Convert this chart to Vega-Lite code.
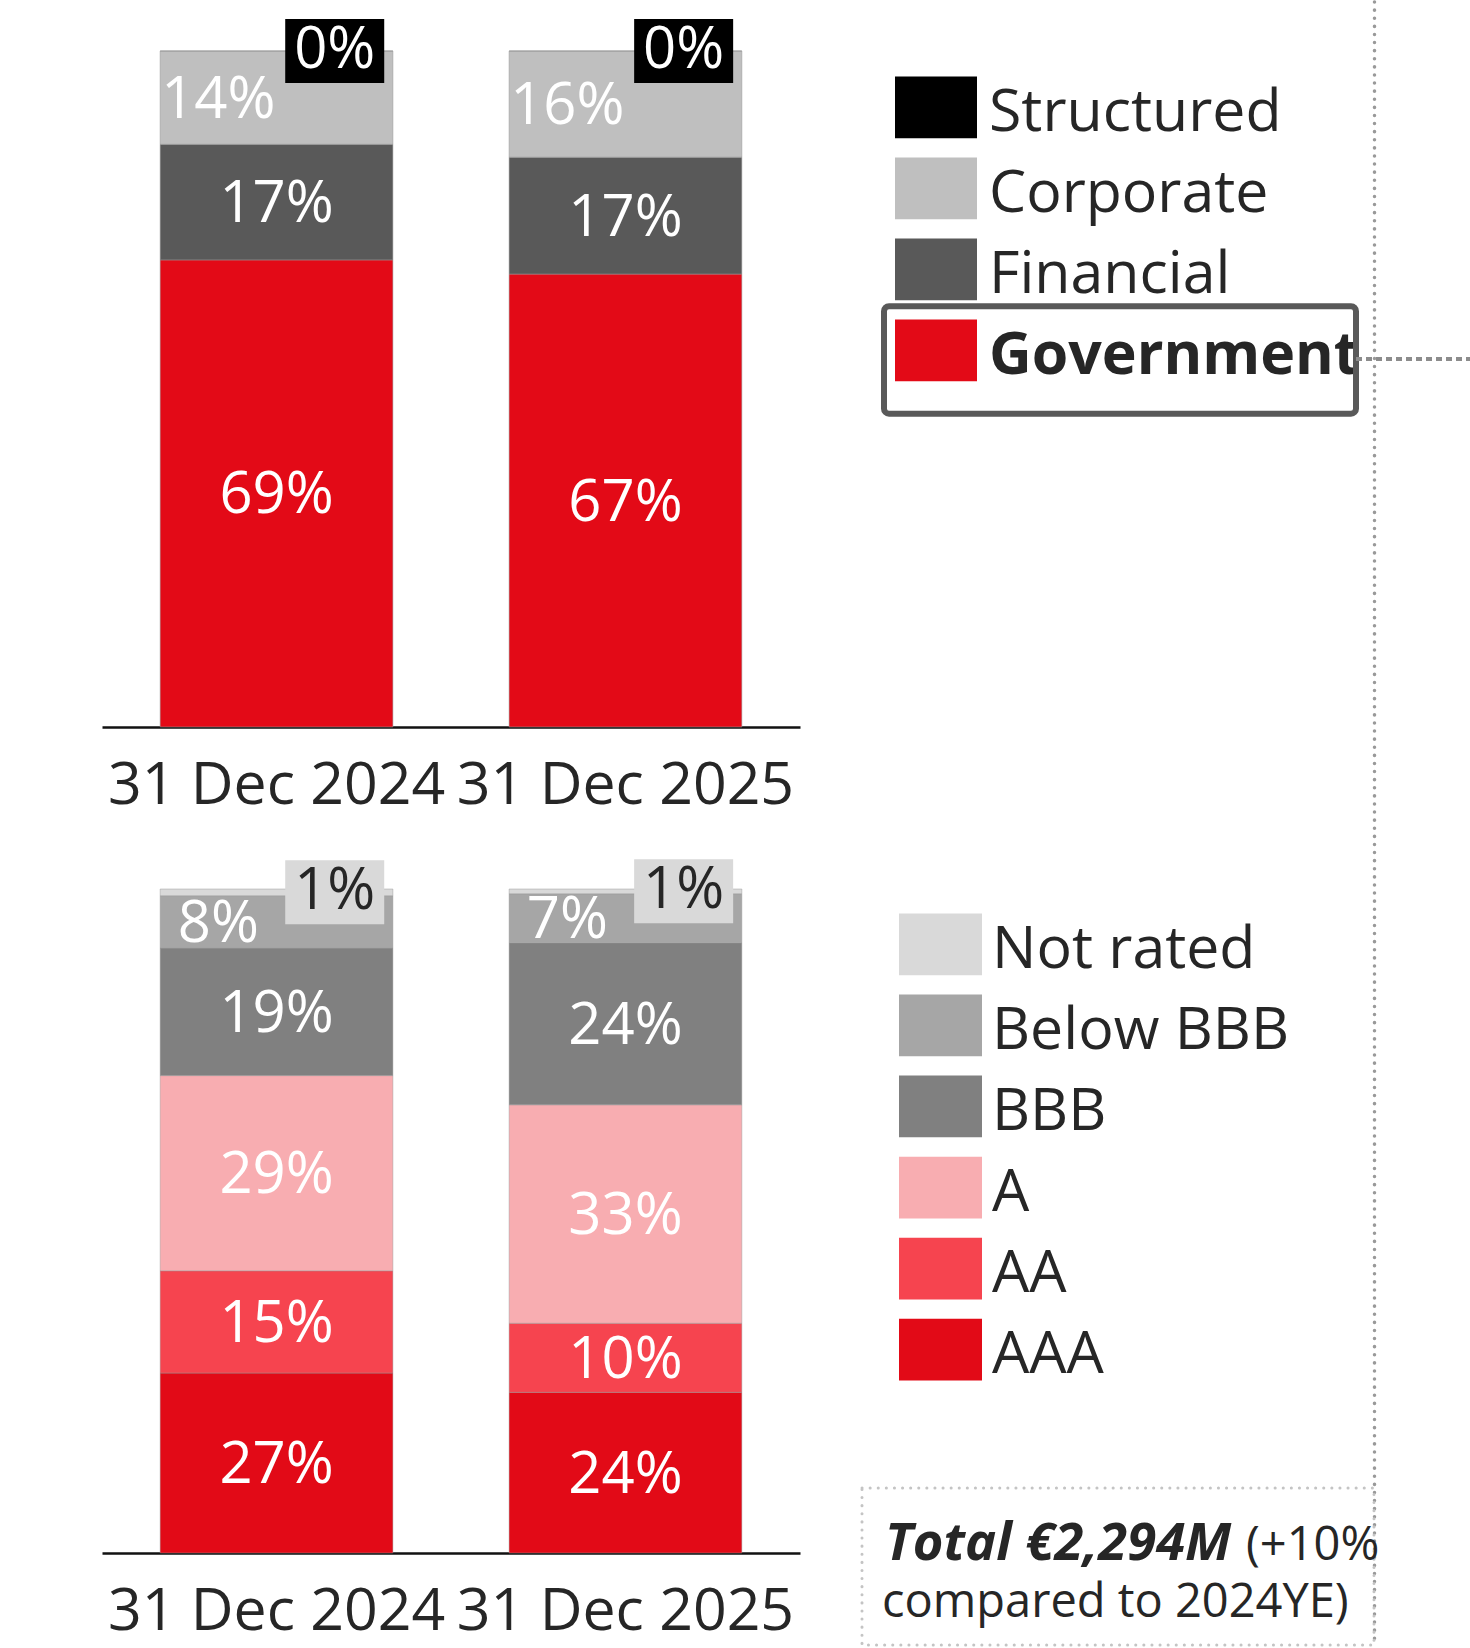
{
  "$schema": "https://vega.github.io/schema/vega-lite/v6.json",
  "padding": {"left": 102, "top": 0, "right": 0, "bottom": 2},
  "background": "white",
  "config": {"view": {"stroke": null}, "font": "Open Sans", "text": {"font": "Open Sans"}},
  "datasets": {
    "sector": [
      {"date": "31 Dec 2024", "cat": "Government", "value": 0.691},
      {"date": "31 Dec 2024", "cat": "Financial", "value": 0.171},
      {"date": "31 Dec 2024", "cat": "Corporate", "value": 0.138},
      {"date": "31 Dec 2024", "cat": "Structured", "value": 0.0},
      {"date": "31 Dec 2025", "cat": "Government", "value": 0.670},
      {"date": "31 Dec 2025", "cat": "Financial", "value": 0.173},
      {"date": "31 Dec 2025", "cat": "Corporate", "value": 0.157},
      {"date": "31 Dec 2025", "cat": "Structured", "value": 0.0}
    ],
    "rating": [
      {"date": "31 Dec 2024", "cat": "AAA", "value": 0.271},
      {"date": "31 Dec 2024", "cat": "AA", "value": 0.154},
      {"date": "31 Dec 2024", "cat": "A", "value": 0.294},
      {"date": "31 Dec 2024", "cat": "BBB", "value": 0.192},
      {"date": "31 Dec 2024", "cat": "Below BBB", "value": 0.079},
      {"date": "31 Dec 2024", "cat": "Not rated", "value": 0.010},
      {"date": "31 Dec 2025", "cat": "AAA", "value": 0.242},
      {"date": "31 Dec 2025", "cat": "AA", "value": 0.104},
      {"date": "31 Dec 2025", "cat": "A", "value": 0.329},
      {"date": "31 Dec 2025", "cat": "BBB", "value": 0.244},
      {"date": "31 Dec 2025", "cat": "Below BBB", "value": 0.074},
      {"date": "31 Dec 2025", "cat": "Not rated", "value": 0.007}
    ],
    "sectorLegend": [
      {"cat": "Structured"}, {"cat": "Corporate"}, {"cat": "Financial"}, {"cat": "Government"}
    ],
    "ratingLegend": [
      {"cat": "Not rated"}, {"cat": "Below BBB"}, {"cat": "BBB"}, {"cat": "A"}, {"cat": "AA"}, {"cat": "AAA"}
    ],
    "note": [{"k": 1}]
  },
  "resolve": {"scale": {"x": "independent", "y": "independent", "color": "independent"}},
  "bounds": "full",
  "spacing": 60,
  "hconcat": [
    {
      "vconcat": [
        {
          "width": 698,
          "height": 676,
          "data": {"name": "sector"},
          "transform": [{"calculate": "indexof(['Government','Financial','Corporate','Structured'], datum.cat)", "as": "rank"}],
          "encoding": {
            "x": {"field": "date", "type": "nominal", "sort": null, "title": null,
              "scale": {"paddingInner": 0.333, "paddingOuter": 0.1667},
              "axis": {"labelAngle": 0, "labelFontSize": 59, "labelColor": "#262626", "labelFont": "Open Sans", "labelPadding": 29, "labelLimit": 600, "ticks": false, "tickSize": 0, "domainColor": "#111111", "domainWidth": 2.5, "grid": false, "labelOverlap": false}},
            "y": {"field": "value", "type": "quantitative", "stack": "zero", "axis": null, "scale": {"domain": [0, 1], "nice": false}},
            "order": {"field": "rank", "type": "quantitative"},
            "detail": {"field": "cat", "type": "nominal"}
          },
          "layer": [
            {
              "mark": {"type": "bar", "stroke": "#999999", "strokeWidth": 1, "strokeOpacity": 0.55},
              "encoding": {
                "color": {"field": "cat", "type": "nominal", "legend": null,
                  "scale": {"domain": ["Structured", "Corporate", "Financial", "Government"], "range": ["#000000", "#bfbfbf", "#595959", "#e30a17"]}}
              }
            },
            {
              "mark": {"type": "text", "fontSize": 58, "fill": "#ffffff", "baseline": "middle", "dy": 3},
              "encoding": {
                "y": {"field": "value", "type": "quantitative", "stack": "zero", "bandPosition": 0.5, "axis": null, "scale": {"domain": [0, 1], "nice": false}},
                "text": {"condition": {"test": "datum.cat === 'Financial' || datum.cat === 'Government'", "field": "value", "type": "quantitative", "format": ".0%"}, "value": ""}
              }
            },
            {
              "mark": {"type": "text", "fontSize": 58, "fill": "#ffffff", "baseline": "middle", "dy": 3},
              "encoding": {
                "x": {"field": "date", "type": "nominal", "sort": null, "bandPosition": 0.25},
                "y": {"field": "value", "type": "quantitative", "stack": "zero", "bandPosition": 0.5, "axis": null, "scale": {"domain": [0, 1], "nice": false}},
                "text": {"condition": {"test": "datum.cat === 'Corporate'", "field": "value", "type": "quantitative", "format": ".0%"}, "value": ""}
              }
            },
            {
              "mark": {"type": "point", "shape": "M-1,-0.6465H1V0.6465H-1Z", "size": 9801, "filled": true, "strokeWidth": 0},
              "encoding": {
                "x": {"field": "date", "type": "nominal", "sort": null, "bandPosition": 0.75},
                "y": {"field": "value", "type": "quantitative", "stack": "zero", "bandPosition": 0.5, "axis": null, "scale": {"domain": [0, 1], "nice": false}},
                "color": {"field": "cat", "type": "nominal", "legend": null,
                  "scale": {"domain": ["Structured", "Corporate", "Financial", "Government"], "range": ["#000000", "#bfbfbf", "#595959", "#e30a17"]}},
                "opacity": {"condition": {"test": "datum.cat === 'Structured'", "value": 1}, "value": 0}
              }
            },
            {
              "mark": {"type": "text", "fontSize": 58, "fill": "#ffffff", "baseline": "middle", "dy": 0},
              "encoding": {
                "x": {"field": "date", "type": "nominal", "sort": null, "bandPosition": 0.75},
                "y": {"field": "value", "type": "quantitative", "stack": "zero", "bandPosition": 0.5, "axis": null, "scale": {"domain": [0, 1], "nice": false}},
                "text": {"condition": {"test": "datum.cat === 'Structured'", "field": "value", "type": "quantitative", "format": ".0%"}, "value": ""}
              }
            }
          ]
        },
        {
          "width": 698,
          "height": 664,
          "data": {"name": "rating"},
          "transform": [{"calculate": "indexof(['AAA','AA','A','BBB','Below BBB','Not rated'], datum.cat)", "as": "rank"}],
          "encoding": {
            "x": {"field": "date", "type": "nominal", "sort": null, "title": null,
              "scale": {"paddingInner": 0.333, "paddingOuter": 0.1667},
              "axis": {"labelAngle": 0, "labelFontSize": 59, "labelColor": "#262626", "labelFont": "Open Sans", "labelPadding": 29, "labelLimit": 600, "ticks": false, "tickSize": 0, "domainColor": "#111111", "domainWidth": 2.5, "grid": false, "labelOverlap": false}},
            "y": {"field": "value", "type": "quantitative", "stack": "zero", "axis": null, "scale": {"domain": [0, 1], "nice": false}},
            "order": {"field": "rank", "type": "quantitative"},
            "detail": {"field": "cat", "type": "nominal"}
          },
          "layer": [
            {
              "mark": {"type": "bar", "stroke": "#999999", "strokeWidth": 1, "strokeOpacity": 0.45},
              "encoding": {
                "color": {"field": "cat", "type": "nominal", "legend": null,
                  "scale": {"domain": ["Not rated", "Below BBB", "BBB", "A", "AA", "AAA"], "range": ["#d9d9d9", "#a6a6a6", "#808080", "#f8adb1", "#f6444f", "#e20a17"]}}
              }
            },
            {
              "mark": {"type": "text", "fontSize": 58, "fill": "#ffffff", "baseline": "middle", "dy": 3},
              "encoding": {
                "y": {"field": "value", "type": "quantitative", "stack": "zero", "bandPosition": 0.5, "axis": null, "scale": {"domain": [0, 1], "nice": false}},
                "text": {"condition": {"test": "datum.cat === 'BBB' || datum.cat === 'A' || datum.cat === 'AA' || datum.cat === 'AAA'", "field": "value", "type": "quantitative", "format": ".0%"}, "value": ""}
              }
            },
            {
              "mark": {"type": "text", "fontSize": 58, "fill": "#ffffff", "baseline": "middle", "dy": 3},
              "encoding": {
                "x": {"field": "date", "type": "nominal", "sort": null, "bandPosition": 0.25},
                "y": {"field": "value", "type": "quantitative", "stack": "zero", "bandPosition": 0.5, "axis": null, "scale": {"domain": [0, 1], "nice": false}},
                "text": {"condition": {"test": "datum.cat === 'Below BBB'", "field": "value", "type": "quantitative", "format": ".0%"}, "value": ""}
              }
            },
            {
              "mark": {"type": "point", "shape": "M-1,-0.6465H1V0.6465H-1Z", "size": 9801, "filled": true, "strokeWidth": 0},
              "encoding": {
                "x": {"field": "date", "type": "nominal", "sort": null, "bandPosition": 0.75},
                "y": {"field": "value", "type": "quantitative", "stack": "zero", "bandPosition": 0.5, "axis": null, "scale": {"domain": [0, 1], "nice": false}},
                "color": {"field": "cat", "type": "nominal", "legend": null,
                  "scale": {"domain": ["Not rated", "Below BBB", "BBB", "A", "AA", "AAA"], "range": ["#d9d9d9", "#a6a6a6", "#808080", "#f8adb1", "#f6444f", "#e20a17"]}},
                "opacity": {"condition": {"test": "datum.cat === 'Not rated'", "value": 1}, "value": 0}
              }
            },
            {
              "mark": {"type": "text", "fontSize": 58, "fill": "#262626", "baseline": "middle", "dy": 0},
              "encoding": {
                "x": {"field": "date", "type": "nominal", "sort": null, "bandPosition": 0.75},
                "y": {"field": "value", "type": "quantitative", "stack": "zero", "bandPosition": 0.5, "axis": null, "scale": {"domain": [0, 1], "nice": false}},
                "text": {"condition": {"test": "datum.cat === 'Not rated'", "field": "value", "type": "quantitative", "format": ".0%"}, "value": ""}
              }
            }
          ]
        }
      ],
      "spacing": 162,
      "bounds": "flush",
      "resolve": {"scale": {"x": "independent", "y": "independent", "color": "independent"}}
    },
    {
      "vconcat": [
        {
          "width": 512,
          "height": 755,
          "data": {"name": "sectorLegend"},
          "encoding": {
            "y": {"field": "cat", "type": "nominal", "sort": null, "axis": null,
              "scale": {"domain": ["Structured", "Corporate", "Financial", "Government"], "range": [25.5, 330.3], "paddingInner": 0.238, "paddingOuter": 0}}
          },
          "layer": [
            {
              "mark": {"type": "rect"},
              "encoding": {
                "x": {"value": 33}, "x2": {"value": 115},
                "color": {"field": "cat", "type": "nominal", "legend": null,
                  "scale": {"domain": ["Structured", "Corporate", "Financial", "Government"], "range": ["#000000", "#bfbfbf", "#595959", "#e30a17"]}}
              }
            },
            {
              "transform": [{"filter": "datum.cat !== 'Government'"}],
              "mark": {"type": "text", "align": "left", "baseline": "middle", "fontSize": 59, "fill": "#262626", "dy": 5.5},
              "encoding": {"x": {"value": 127}, "text": {"field": "cat", "type": "nominal"}}
            },
            {
              "transform": [{"filter": "datum.cat === 'Government'"}],
              "mark": {"type": "text", "align": "left", "baseline": "middle", "fontSize": 59, "fontWeight": "bold", "fill": "#262626", "dy": 5.5},
              "encoding": {"x": {"value": 127}, "text": {"field": "cat", "type": "nominal"}}
            },
            {
              "transform": [{"filter": "datum.cat === 'Government'"}],
              "mark": {"type": "rect", "fill": "#ffffff", "fillOpacity": 0, "stroke": "#595959", "strokeWidth": 6, "cornerRadius": 5},
              "encoding": {
                "x": {"value": 22}, "x2": {"value": 494},
                "y": {"field": "cat", "type": "nominal", "sort": null, "bandPosition": -0.216, "axis": null,
                  "scale": {"domain": ["Structured", "Corporate", "Financial", "Government"], "range": [25.5, 330.3], "paddingInner": 0.238, "paddingOuter": 0}},
                "y2": {"field": "cat", "bandPosition": 1.524}
              }
            },
            {
              "transform": [{"filter": "datum.cat === 'Government'"}],
              "mark": {"type": "rule", "stroke": "#8c8c8c", "strokeWidth": 4, "strokeDash": [6, 4]},
              "encoding": {
                "x": {"value": 494}, "x2": {"value": 610},
                "y": {"field": "cat", "type": "nominal", "sort": null, "bandPosition": 0.637, "axis": null,
                  "scale": {"domain": ["Structured", "Corporate", "Financial", "Government"], "range": [25.5, 330.3], "paddingInner": 0.238, "paddingOuter": 0}}
              }
            },
            {
              "transform": [{"filter": "datum.cat === 'Government'"}],
              "mark": {"type": "rule", "stroke": "#999999", "strokeWidth": 3.5, "strokeDash": [0.1, 8], "strokeCap": "round"},
              "encoding": {"x": {"value": 512.5}, "y": {"value": -49}, "y2": {"value": 1594}}
            }
          ]
        },
        {
          "width": 512,
          "height": 518,
          "data": {"name": "ratingLegend"},
          "encoding": {
            "y": {"field": "cat", "type": "nominal", "sort": null, "axis": null,
              "scale": {"domain": ["Not rated", "Below BBB", "BBB", "A", "AA", "AAA"], "paddingInner": 0.238, "paddingOuter": 0.315}}
          },
          "layer": [
            {
              "mark": {"type": "rect"},
              "encoding": {
                "x": {"value": 37}, "x2": {"value": 120},
                "color": {"field": "cat", "type": "nominal", "legend": null,
                  "scale": {"domain": ["Not rated", "Below BBB", "BBB", "A", "AA", "AAA"], "range": ["#d9d9d9", "#a6a6a6", "#808080", "#f8adb1", "#f6444f", "#e20a17"]}}
              }
            },
            {
              "mark": {"type": "text", "align": "left", "baseline": "middle", "fontSize": 59, "fill": "#262626", "dy": 5.5},
              "encoding": {"x": {"value": 130}, "text": {"field": "cat", "type": "nominal"}}
            }
          ]
        },
        {
          "width": 512,
          "height": 157,
          "view": {"stroke": "#c4c4c4", "strokeWidth": 3, "strokeDash": [0.1, 8], "strokeCap": "round"},
          "data": {"name": "note"},
          "layer": [
            {
              "mark": {"type": "text", "text": "Total €2,294M", "fontSize": 52.5, "fontWeight": "bold", "fontStyle": "italic", "fill": "#262626", "align": "left", "baseline": "alphabetic"},
              "encoding": {"x": {"value": 23}, "y": {"value": 72}}
            },
            {
              "mark": {"type": "text", "text": "(+10%", "fontSize": 47, "fill": "#262626", "align": "left", "baseline": "alphabetic"},
              "encoding": {"x": {"value": 384}, "y": {"value": 72}}
            },
            {
              "mark": {"type": "text", "text": "compared to 2024YE)", "fontSize": 47, "fill": "#262626", "align": "left", "baseline": "alphabetic"},
              "encoding": {"x": {"value": 20}, "y": {"value": 129}}
            }
          ]
        }
      ],
      "spacing": 82,
      "bounds": "flush",
      "resolve": {"scale": {"x": "independent", "y": "independent", "color": "independent"}}
    }
  ]
}
